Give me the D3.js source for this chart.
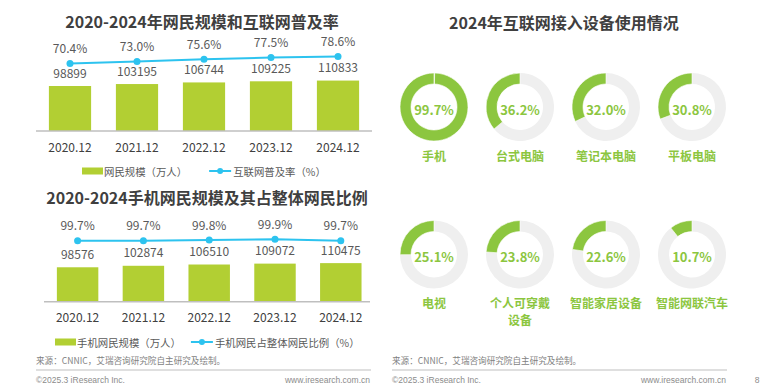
<!DOCTYPE html>
<html>
<head>
<meta charset="utf-8">
<script src="https://cdn.jsdelivr.net/npm/d3@7"></script>
<style>
  body { margin: 0; background: #fff; }
  svg { display: block; font-family: "Noto Sans CJK SC", "Noto Sans", sans-serif; }
</style>
</head>
<body>
<div id="chart"></div>
<script>
// year-end survey points
var years = ["2020.12", "2021.12", "2022.12", "2023.12", "2024.12"];

// netizens (10k people) and penetration rate (%)
var netizens = [98899, 103195, 106744, 109225, 110833];
var penetration = [70.4, 73.0, 75.6, 77.5, 78.6];

// mobile netizens (10k people) and share of all netizens (%)
var mobileNetizens = [98576, 102874, 106510, 109072, 110475];
var mobileShare = [99.7, 99.7, 99.8, 99.9, 99.7];

// devices used to go online in 2024 (%)
var devices = [["手机"], ["台式电脑"], ["笔记本电脑"], ["平板电脑"],
               ["电视"], ["个人可穿戴", "设备"], ["智能家居设备"], ["智能网联汽车"]];
var deviceShare = [99.7, 36.2, 32.0, 30.8, 25.1, 23.8, 22.6, 10.7];

var barColor = "#b2cf33";
var lineColor = "#2dc3ef";
var ringColor = "#8cc63f";
var ringBack = "#efefef";

var svg = d3.select("#chart").append("svg")
    .attr("width", 768)
    .attr("height", 391);

// bar + line combo chart, one per call
function comboChart(opt) {
  var g = svg.append("g");

  g.append("text")
      .attr("x", opt.titleX)
      .attr("y", opt.titleY)
      .attr("text-anchor", "middle")
      .attr("dominant-baseline", "central")
      .style("font-size", "16px")
      .style("font-weight", "bold")
      .style("fill", "#3f3f3f")
      .text(opt.title);

  var x = d3.scaleBand()
      .domain(years)
      .range(opt.xRange)
      .paddingInner(0.37)
      .paddingOuter(0.185);

  var yBar = d3.scaleLinear().domain([0, 120000]).range(opt.barRange);
  var yLine = d3.scaleLinear().domain(opt.lineDomain).range(opt.lineRange);

  g.selectAll(".bar")
    .data(opt.bars)
    .enter().append("rect")
      .attr("class", "bar")
      .attr("x", function(d, i) { return x(years[i]); })
      .attr("y", function(d) { return yBar(d); })
      .attr("width", x.bandwidth())
      .attr("height", function(d) { return yBar(0) - yBar(d); })
      .style("fill", barColor);

  // baseline
  g.append("line")
      .attr("x1", opt.axisX[0]).attr("x2", opt.axisX[1])
      .attr("y1", yBar(0)).attr("y2", yBar(0))
      .style("stroke", "#bfbfbf")
      .style("stroke-width", 1.5);

  g.selectAll(".barlabel")
    .data(opt.bars)
    .enter().append("text")
      .attr("x", function(d, i) { return x(years[i]) + x.bandwidth() / 2; })
      .attr("y", function(d) { return yBar(d) - 14; })
      .attr("text-anchor", "middle")
      .attr("dominant-baseline", "central")
      .style("font-size", "12px")
      .style("fill", "#595959")
      .text(function(d) { return d; });

  g.selectAll(".cat")
    .data(years)
    .enter().append("text")
      .attr("x", function(d) { return x(d) + x.bandwidth() / 2; })
      .attr("y", yBar(0) + 15)
      .attr("text-anchor", "middle")
      .attr("dominant-baseline", "central")
      .style("font-size", "12px")
      .style("fill", "#404040")
      .text(function(d) { return d; });

  var line = d3.line()
      .x(function(d, i) { return x(years[i]) + x.bandwidth() / 2; })
      .y(function(d) { return yLine(d); });

  g.append("path")
      .datum(opt.line)
      .attr("d", line)
      .style("fill", "none")
      .style("stroke", lineColor)
      .style("stroke-width", 2);

  g.selectAll(".dot")
    .data(opt.line)
    .enter().append("circle")
      .attr("cx", function(d, i) { return x(years[i]) + x.bandwidth() / 2; })
      .attr("cy", function(d) { return yLine(d); })
      .attr("r", 3.5)
      .style("fill", lineColor);

  g.selectAll(".linelabel")
    .data(opt.line)
    .enter().append("text")
      .attr("x", function(d, i) { return x(years[i]) + x.bandwidth() / 2; })
      .attr("y", function(d) { return yLine(d) - 16; })
      .attr("text-anchor", "middle")
      .attr("dominant-baseline", "central")
      .style("font-size", "12px")
      .style("fill", "#595959")
      .text(function(d) { return d.toFixed(1) + "%"; });

  // legend
  var lg = g.append("g").attr("transform", "translate(0," + opt.legendY + ")");
  lg.append("rect")
      .attr("x", opt.legendX).attr("y", -3.5)
      .attr("width", 21).attr("height", 7)
      .style("fill", barColor);
  var t1 = lg.append("text")
      .attr("x", opt.legendX + 22).attr("y", 0)
      .attr("dominant-baseline", "central")
      .style("font-size", "10.4px")
      .style("fill", "#595959")
      .text(opt.barName);
  var lx = opt.legendX + 22 + t1.node().getComputedTextLength() + opt.legendGap;
  lg.append("line")
      .attr("x1", lx).attr("x2", lx + 22)
      .attr("y1", 0).attr("y2", 0)
      .style("stroke", lineColor)
      .style("stroke-width", 2);
  lg.append("circle")
      .attr("cx", lx + 11).attr("cy", 0).attr("r", 3)
      .style("fill", lineColor);
  lg.append("text")
      .attr("x", lx + 24).attr("y", 0)
      .attr("dominant-baseline", "central")
      .style("font-size", "10.4px")
      .style("fill", "#595959")
      .text(opt.lineName);
}

comboChart({
  title: "2020-2024年网民规模和互联网普及率",
  titleX: 202, titleY: 21,
  bars: netizens, line: penetration,
  xRange: [36.5, 371.5], axisX: [36, 372],
  barRange: [131, 76.4],
  lineDomain: [60, 80], lineRange: [72.5, 55.4],
  legendY: 171, legendX: 82, legendGap: 22,
  barName: "网民规模（万人）", lineName: "互联网普及率（%）"
});

comboChart({
  title: "2020-2024手机网民规模及其占整体网民比例",
  titleX: 207, titleY: 197,
  bars: mobileNetizens, line: mobileShare,
  xRange: [44.7, 373.7], axisX: [44, 370],
  barRange: [301.7, 259.8],
  lineDomain: [99, 100], lineRange: [245.6, 238.6],
  legendY: 342, legendX: 55, legendGap: 10,
  barName: "手机网民规模（万人）", lineName: "手机网民占整体网民比例（%）"
});

// right panel: device donuts
svg.append("text")
    .attr("x", 564).attr("y", 22)
    .attr("text-anchor", "middle")
    .attr("dominant-baseline", "central")
    .style("font-size", "16px")
    .style("font-weight", "bold")
    .style("fill", "#3f3f3f")
    .text("2024年互联网接入设备使用情况");

var col = d3.scalePoint().domain([0, 1, 2, 3]).range([434, 692]);
var row = d3.scalePoint().domain([0, 1]).range([107, 254.5]);

var arc = d3.arc().innerRadius(23).outerRadius(34);

var donut = svg.selectAll(".donut")
  .data(deviceShare)
  .enter().append("g")
    .attr("class", "donut")
    .attr("transform", function(d, i) {
      return "translate(" + col(i % 4) + "," + row(Math.floor(i / 4)) + ")";
    });

donut.append("path")
    .attr("d", function(d) { return arc({ startAngle: 0, endAngle: 2 * Math.PI * (1 - d / 100) }); })
    .style("fill", ringBack);

donut.append("path")
    .attr("d", function(d) { return arc({ startAngle: -2 * Math.PI * d / 100, endAngle: 0 }); })
    .style("fill", ringColor)
    .style("stroke", "#fff")
    .style("stroke-width", 0.6);

donut.append("text")
    .attr("y", 2)
    .attr("text-anchor", "middle")
    .attr("dominant-baseline", "central")
    .style("font-size", "13px")
    .style("font-weight", "bold")
    .style("fill", ringColor)
    .text(function(d) { return d.toFixed(1) + "%"; });

donut.each(function(d, i) {
  var t = d3.select(this).append("text")
      .attr("text-anchor", "middle")
      .style("font-size", "12px")
      .style("font-weight", "bold")
      .style("fill", ringColor);
  devices[i].forEach(function(s, k) {
    t.append("tspan")
        .attr("x", 0)
        .attr("y", 48 + k * 17)
        .attr("dominant-baseline", "central")
        .text(s);
  });
});

// footers
[[36, 371, 370], [392, 727, 726]].forEach(function(f) {
  svg.append("text")
      .attr("x", f[0]).attr("y", 360)
      .attr("dominant-baseline", "central")
      .style("font-size", "8.6px")
      .style("fill", "#7f7f7f")
      .text("来源：CNNIC，艾瑞咨询研究院自主研究及绘制。");
  svg.append("line")
      .attr("x1", f[0]).attr("x2", f[1])
      .attr("y1", 370).attr("y2", 370)
      .style("stroke", "#bfbfbf")
      .style("stroke-width", 1);
  svg.append("text")
      .attr("x", f[0]).attr("y", 380)
      .attr("dominant-baseline", "central")
      .style("font-family", "Liberation Sans, Arial, sans-serif")
      .style("font-size", "8.5px")
      .style("fill", "#8c8c8c")
      .text("©2025.3 iResearch Inc.");
  svg.append("text")
      .attr("x", f[2]).attr("y", 380)
      .attr("text-anchor", "end")
      .attr("dominant-baseline", "central")
      .style("font-family", "Liberation Sans, Arial, sans-serif")
      .style("font-size", "8.5px")
      .style("fill", "#8c8c8c")
      .text("www.iresearch.com.cn");
});

svg.append("text")
    .attr("x", 757).attr("y", 380)
    .attr("text-anchor", "middle")
    .attr("dominant-baseline", "central")
    .style("font-family", "Liberation Sans, Arial, sans-serif")
    .style("font-size", "8.5px")
    .style("fill", "#8c8c8c")
    .text("8");
</script>
</body>
</html>
